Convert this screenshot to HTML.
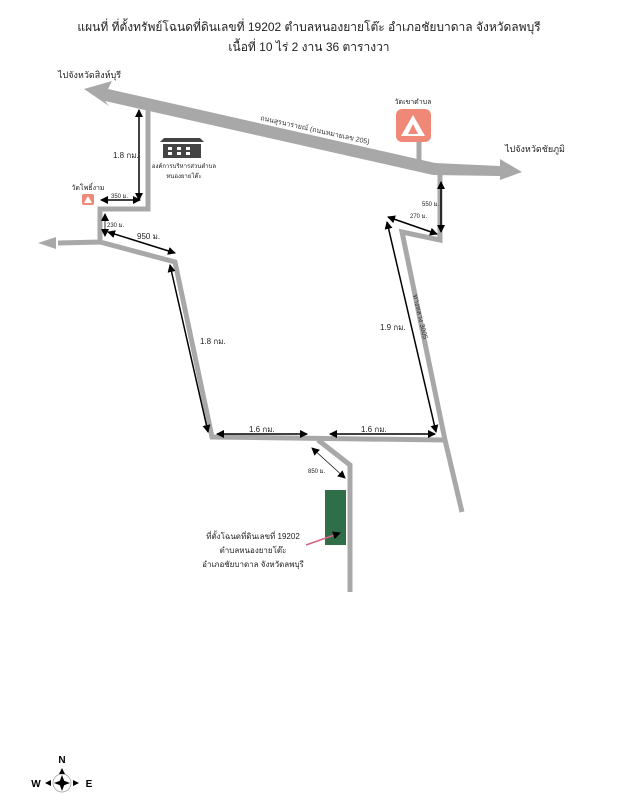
<!DOCTYPE html>
<html><head><meta charset="utf-8"><style>
body{margin:0;background:#fff;}
svg{display:block;font-family:"Liberation Sans","Noto Sans CJK SC",sans-serif;}
</style></head><body>
<svg width="619" height="800" viewBox="0 0 619 800" xmlns="http://www.w3.org/2000/svg">
<defs>
<marker id="a" markerWidth="8" markerHeight="8" refX="7" refY="4" orient="auto-start-reverse" markerUnits="userSpaceOnUse"><path d="M0,0 L8,4 L0,8z" fill="#000"/></marker>
</defs>
<text x="309" y="31" font-size="12" text-anchor="middle" fill="#222">แผนที่ ที่ตั้งทรัพย์โฉนดที่ดินเลขที่ 19202  ตำบลหนองยายโต๊ะ  อำเภอชัยบาดาล  จังหวัดลพบุรี</text>
<text x="309" y="51" font-size="12" text-anchor="middle" fill="#222">เนื้อที่   10 ไร่ 2 งาน 36 ตารางวา</text>
<g fill="none" stroke="#a8a8a8" stroke-width="5" stroke-linejoin="miter">
<polyline points="148,102 148,209 100,209 100,242 58,243"/>
<polyline points="100,242 175,262 212,437 445,440"/>
<polyline points="440,172 440,240 402,232 445,440 462,512"/>
<polyline points="318,440 350,465 350,592"/>
<line x1="419" y1="140" x2="419" y2="163"/>
</g>
<path d="M56,237 L38,243 L56,249z" fill="#a8a8a8"/>
<g fill="#a8a8a8">
<path d="M84,89 L112,81 L108,89 L435,163 L500,166 L500,159 L522,172 L500,180 L500,176 L433,175 L105,101 L109,106z"/>
</g>
<text x="260" y="120" font-size="7" fill="#333" transform="rotate(12.5 260 120)">ถนนสุรนารายณ์ (ถนนหมายเลข 205)</text>
<text x="58" y="78" font-size="9" fill="#222">ไปจังหวัดสิงห์บุรี</text>
<text x="505" y="152" font-size="9" fill="#222">ไปจังหวัดชัยภูมิ</text>
<rect x="396" y="109" width="35" height="33" rx="6" fill="#f08878"/>
<path d="M413,115 L425,136 L401,136z" fill="#fff"/><path d="M413,124 L418,134 L408,134z" fill="#f08878"/>
<text x="413" y="104" font-size="7" text-anchor="middle" fill="#222">วัดเขาตำบล</text>
<rect x="82" y="194" width="12" height="11" rx="2" fill="#f08878"/>
<path d="M88,196 L92,203 L84,203z" fill="#fff"/>
<text x="88" y="190" font-size="7" text-anchor="middle" fill="#222">วัดโพธิ์งาม</text>
<g fill="#444"><path d="M160,142 L204,142 L200,138 L164,138z"/><rect x="163" y="144" width="38" height="14"/></g>
<g fill="#fff"><rect x="168" y="147" width="4" height="3"/><rect x="177" y="147" width="4" height="3"/><rect x="186" y="147" width="4" height="3"/><rect x="168" y="152" width="4" height="3"/><rect x="177" y="152" width="4" height="3"/><rect x="186" y="152" width="4" height="3"/></g>
<text x="184" y="168" font-size="6" text-anchor="middle" fill="#222">องค์การบริหารส่วนตำบล</text>
<text x="184" y="178" font-size="6" text-anchor="middle" fill="#222">หนองยายโต๊ะ</text>
<g stroke="#000" stroke-width="1.5" marker-start="url(#a)" marker-end="url(#a)">
<line x1="139" y1="110" x2="139" y2="200"/>
<line x1="101" y1="200" x2="140" y2="200"/>
<line x1="105" y1="214" x2="105" y2="236" stroke-width="0.8"/>
<line x1="108" y1="232" x2="175" y2="253"/>
<line x1="170" y1="265" x2="208" y2="432"/>
<line x1="217" y1="434" x2="307" y2="434"/>
<line x1="330" y1="434" x2="435" y2="434"/>
<line x1="387" y1="222" x2="436" y2="432"/>
<line x1="388" y1="217" x2="437" y2="234"/>
<line x1="441" y1="182" x2="441" y2="232"/>
<line x1="312" y1="448" x2="345" y2="478" stroke-width="0.7"/>
</g>
<g font-size="8" fill="#222">
<text x="113" y="158">1.8 กม.</text>
<text x="111" y="198" font-size="6">350 ม.</text>
<text x="107" y="227" font-size="6">230 ม.</text>
<text x="137" y="239">950 ม.</text>
<text x="200" y="344">1.8 กม.</text>
<text x="249" y="432">1.6 กม.</text>
<text x="361" y="432">1.6 กม.</text>
<text x="380" y="330">1.9 กม.</text>
<text x="410" y="218" font-size="6">270 ม.</text>
<text x="422" y="206" font-size="6">550 ม.</text>
<text x="308" y="473" font-size="6">850 ม.</text>
</g>
<text x="413" y="295" font-size="7" fill="#333" transform="rotate(77 413 295)">ทางหลวง 3005</text>
<rect x="325" y="490" width="21" height="55" fill="#2f6e48"/>
<line x1="306" y1="545" x2="340" y2="533" stroke="#d86080" stroke-width="1.5" marker-end="url(#a)"/>
<g font-size="8" fill="#222" text-anchor="middle">
<text x="253" y="539">ที่ตั้งโฉนดที่ดินเลขที่ 19202</text>
<text x="253" y="553">ตำบลหนองยายโต๊ะ</text>
<text x="253" y="567">อำเภอชัยบาดาล จังหวัดลพบุรี</text>
</g>
<g>
<circle cx="62" cy="783" r="9" fill="none" stroke="#999" stroke-width="0.7"/>
<path d="M62,775 L65,783 L62,791 L59,783z M54,783 L62,780 L70,783 L62,786z" fill="#000"/>
<path d="M62,768 L65,774 L59,774z M45,783 L51,780 L51,786z M79,783 L73,780 L73,786z" fill="#000"/>
<text x="62" y="763" font-size="10" font-weight="bold" text-anchor="middle">N</text>
<text x="36" y="787" font-size="10" font-weight="bold" text-anchor="middle">W</text>
<text x="89" y="787" font-size="10" font-weight="bold" text-anchor="middle">E</text>
</g>
</svg>
</body></html>
